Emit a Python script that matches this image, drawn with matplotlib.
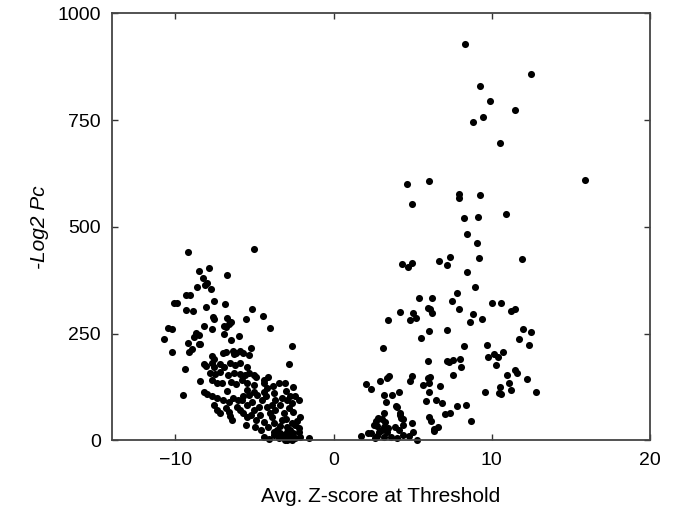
import matplotlib
matplotlib.use("Agg")
import matplotlib.pyplot as plt

# valores: lado negativo (z < 0)
neg_z = [-9.20, -5.01, -8.48, -7.90, -8.28, -6.73, -8.63, -8.15, -8.00, -7.73,
         -9.30, -9.05, -7.58, -6.84, -10.09, -9.89, -8.09, -9.30, -8.88, -5.15,
         -4.48, -7.64, -7.54, -6.72, -6.46, -6.63, -5.52, -8.21, -7.68, -4.00,
         -10.44, -10.21, -6.90, -6.78, -8.69, -8.48, -8.80, -6.92, -5.96, -10.74,
         -9.22, -8.53, -8.42, -6.48, -2.65, -5.24, -10.23, -9.16, -8.95, -7.01,
         -6.80, -6.38, -6.15, -5.69, -2.80, -9.37, -8.47, -9.51,
         -7.66, -7.54, -6.32, -5.94, -5.37, -8.21, -8.04, -7.71, -7.58, -7.20,
         -6.95, -6.53, -6.21, -5.89, -5.47, -7.83, -7.47, -7.16, -6.70, -6.32,
         -5.94, -5.58, -7.68, -7.37, -7.05, -6.73, -6.46, -6.15, -5.79, -5.47,
         -8.21, -8.00, -7.68, -7.37, -6.99, -6.63, -6.35, -6.06, -5.69, -5.37,
         -7.58, -7.37, -7.16, -6.78, -6.63, -6.53, -6.42, -6.10, -5.89, -5.69,
         -5.47, -5.51,
         -5.37, -5.05, -4.88, -4.42, -4.11, -4.38, -3.83, -3.47, -3.05, -2.53,
         -2.42, -2.21, -5.47, -5.05, -4.84, -4.42, -4.25, -3.79, -3.68, -3.26,
         -2.94, -2.74, -2.63, -5.79, -5.47, -5.15, -5.05, -4.74, -4.63, -4.21,
         -4.00, -3.68, -3.37, -3.16, -2.84, -2.53, -2.10, -4.95, -4.42, -4.11,
         -3.79, -3.58, -3.26, -2.94, -2.74, -2.42, -2.21, -4.42, -3.79, -3.47,
         -3.16, -2.94, -2.74, -2.42, -2.10, -1.58, -3.79, -3.37, -2.94, -2.53,
         -2.21, -5.20, -4.90, -3.90, -3.00, -2.60, -4.60, -3.40, -2.30, -3.90,
         -4.50, -3.00, -4.20, -5.00, -3.20, -2.60, -4.10, -3.05]
neg_p = [441, 449, 396, 403, 380, 388, 360, 364, 368, 354,
         341, 341, 327, 320, 323, 323, 313, 305, 304, 307,
         291, 289, 284, 286, 278, 272, 284, 268, 262, 263,
         263, 261, 268, 265, 251, 246, 243, 250, 245, 238,
         228, 226, 226, 235, 222, 217, 207, 208, 214, 206,
         208, 210, 206, 206, 178, 168, 139, 107,
         198, 190, 203, 210, 200, 179, 175, 181, 173, 178,
         173, 181, 177, 181, 173, 159, 155, 160, 153, 159,
         156, 153, 142, 134, 135, 117, 138, 132, 142, 134,
         114, 109, 103, 99, 95, 91, 99, 95, 103, 107,
         83, 71, 65, 75, 67, 57, 48, 79, 71, 64,
         56, 36,
         159, 153, 148, 142, 149, 134, 128, 135, 134, 126,
         104, 95, 118, 114, 107, 114, 103, 111, 95, 99,
         95, 103, 87, 95, 83, 91, 71, 79, 60, 79,
         64, 71, 83, 64, 75, 67, 56, 31, 44, 32,
         40, 25, 48, 32, 25, 36, 29, 9, 13, 5,
         9, 1, 11, 5, 7, 5, 21, 18, 21, 17,
         21, 60, 47, 55, 50, 42, 24, 35, 46, 82,
         95, 115, 124, 130, 14, 2, 3, 0]

# lado positivo (z > 0)
pos_z = [8.34, 12.49, 9.27, 9.88, 11.50, 9.44, 8.82, 10.53, 15.92, 4.64,
         6.06, 4.93, 7.92, 7.95, 9.27, 8.24, 9.16, 10.92, 8.43, 9.08,
         4.34, 4.68, 4.97, 6.68, 7.16, 7.37, 9.19, 11.94, 8.45, 8.93,
         7.83, 5.39, 6.25, 7.48, 6.00, 6.11, 6.22, 7.90, 10.04, 10.59,
         11.23, 11.50, 4.19, 5.02, 5.24, 4.85, 3.46, 8.81, 8.62, 9.41,
         7.18, 6.05, 5.54, 3.12, 8.24, 11.96, 12.49, 11.71, 12.34, 9.71,
         9.75, 10.17, 10.38, 10.70, 10.28, 7.16, 7.31, 7.54, 8.02, 8.04,
         7.58, 6.00, 4.99, 4.86, 6.11, 5.96, 5.65, 6.06, 6.70, 3.50,
         3.41, 2.95, 10.95, 11.48, 11.62, 12.22, 11.12, 11.22, 10.51, 10.59,
         10.47, 12.81, 9.58, 6.05, 3.16, 3.69, 4.15, 5.84, 6.47, 6.85,
         7.83, 8.38, 7.07, 7.37, 3.33, 3.96, 4.17, 6.06, 6.15, 6.63,
         6.32, 6.38, 8.72, 4.96, 5.02, 5.27, 4.26, 4.42, 4.11, 4.38,
         4.00, 2.05, 2.38, 3.99, 4.21, 4.42, 3.16, 2.84, 3.06, 2.68,
         3.27, 3.22, 3.47, 2.74, 2.53, 3.06, 2.89, 3.37, 3.90, 2.21,
         2.38, 1.75, 2.59, 2.74, 3.16, 3.64, 4.74]
pos_p = [928, 858, 830, 795, 774, 757, 745, 696, 610, 600,
         607, 554, 577, 567, 574, 522, 524, 531, 483, 462,
         414, 406, 415, 421, 411, 430, 428, 424, 394, 359,
         346, 333, 333, 326, 311, 307, 299, 308, 321, 322,
         304, 307, 301, 299, 288, 281, 281, 297, 278, 285,
         259, 256, 239, 217, 222, 261, 254, 237, 223, 224,
         196, 203, 196, 207, 176, 185, 183, 189, 190, 173,
         153, 185, 152, 140, 149, 146, 130, 134, 128, 152,
         147, 139, 153, 165, 159, 143, 135, 118, 126, 109,
         112, 113, 113, 113, 107, 107, 113, 93, 95, 87,
         81, 83, 62, 64, 89, 81, 65, 54, 46, 32,
         27, 22, 46, 42, 20, 0, 52, 36, 25, 13,
         5, 132, 120, 79, 60, 50, 65, 52, 50, 46,
         44, 32, 29, 34, 36, 25, 21, 21, 32, 17,
         17, 11, 5, 11, 7, 7, 11]

plt.rcParams['font.family'] = ['Liberation Sans', 'DejaVu Sans']

fig = plt.figure(figsize=(6.76, 5.15), dpi=100)
ax = fig.add_axes([0.1657, 0.1447, 0.7958, 0.8291])

ax.scatter(neg_z, neg_p, s=26, c='black', linewidths=0, clip_on=False)
ax.scatter(pos_z, pos_p, s=26, c='black', linewidths=0, clip_on=False)

ax.set_xlim(-14, 20)
ax.set_ylim(0, 1000)
ax.set_xticks([-10, 0, 10, 20])
ax.set_yticks([0, 250, 500, 750, 1000])
ax.tick_params(direction='in', top=True, right=True, length=4, width=1,
               labelsize=14, colors='#333333', labelcolor='black', pad=8)
for s in ax.spines.values():
    s.set_linewidth(1.3)
    s.set_color('#444444')

ax.set_xlabel("Avg. Z-score at Threshold", fontsize=15, labelpad=13)
ax.set_ylabel("-Log2 Pc", fontsize=15, style='italic', labelpad=6)

fig.savefig("out.png", dpi=100)
